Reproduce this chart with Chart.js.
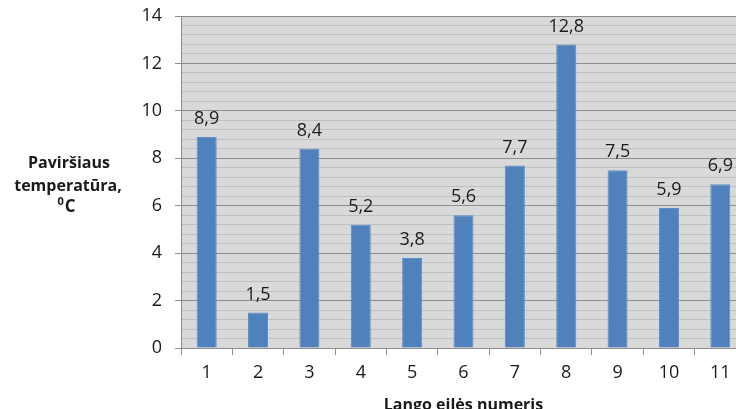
<!DOCTYPE html>
<html>
<head>
<meta charset="utf-8">
<script src="https://cdn.jsdelivr.net/npm/chart.js@4/dist/chart.umd.min.js"></script>
<style>
  html, body { margin: 0; padding: 0; background: #ffffff; overflow: hidden; }
  #wrap { width: 736px; height: 409px; overflow: hidden; position: relative; }
  canvas { display: block; }
</style>
</head>
<body>
<div id="wrap"><canvas id="c" width="746" height="420"></canvas></div>
<script>
// Window numbers and their surface temperatures (°C)
const windowNumbers = ['1', '2', '3', '4', '5', '6', '7', '8', '9', '10', '11'];
const surfaceTemps = [8.9, 1.5, 8.4, 5.2, 3.8, 5.6, 7.7, 12.8, 7.5, 5.9, 6.9];
const yTitleLines = ['Paviršiaus', 'temperatūra,'];
const yUnitSup = '0';
const yUnit = 'C';
const xTitle = 'Lango eilės numeris';

const FONT = '"Open Sans", "DejaVu Sans", sans-serif';
const TEXT = '#1a1a1a';
const MAJOR = '#8e8e8e';
const MINOR = '#bfbfbf';

const isMajor = v => Math.abs(v / 2 - Math.round(v / 2)) < 1e-6;

// Grey plot background
const plotBg = {
  id: 'plotBg',
  beforeDraw(chart) {
    const { ctx, chartArea: a } = chart;
    ctx.save();
    ctx.fillStyle = '#d9d9d9';
    ctx.fillRect(a.left, a.top, a.right - a.left, a.bottom - a.top);
    ctx.restore();
  }
};

// Value labels above bars, with decimal comma
const barLabels = {
  id: 'barLabels',
  afterDatasetsDraw(chart) {
    const { ctx } = chart;
    const meta = chart.getDatasetMeta(0);
    ctx.save();
    ctx.font = '18px ' + FONT;
    ctx.fillStyle = TEXT;
    ctx.textAlign = 'center';
    ctx.textBaseline = 'middle';
    meta.data.forEach((bar, i) => {
      const txt = String(surfaceTemps[i]).replace('.', ',');
      ctx.fillText(txt, bar.x, bar.y - 18);
    });
    ctx.restore();
  }
};

// Horizontal axis titles
const axisTitles = {
  id: 'axisTitles',
  afterDraw(chart) {
    const { ctx, chartArea: a } = chart;
    ctx.save();
    ctx.fillStyle = TEXT;
    ctx.textBaseline = 'alphabetic';
    ctx.textAlign = 'center';
    ctx.font = 'bold 16px ' + FONT;
    ctx.fillText(yTitleLines[0], 69, 168);
    ctx.fillText(yTitleLines[1], 68, 191);
    // unit with superscript degree mark
    ctx.textAlign = 'left';
    ctx.font = 'bold 11px ' + FONT;
    const supW = ctx.measureText(yUnitSup).width;
    ctx.font = 'bold 17px ' + FONT;
    const cW = ctx.measureText(yUnit).width;
    const startX = 66 - (supW + cW) / 2;
    ctx.font = 'bold 11px ' + FONT;
    ctx.fillText(yUnitSup, startX, 205);
    ctx.font = 'bold 17px ' + FONT;
    ctx.fillText(yUnit, startX + supW + 1, 212);
    // x title
    ctx.textAlign = 'center';
    ctx.font = 'bold 16px ' + FONT;
    ctx.fillText(xTitle, (a.left + 746) / 2, 410);
    ctx.restore();
  }
};

new Chart(document.getElementById('c'), {
  type: 'bar',
  data: {
    labels: windowNumbers,
    datasets: [{
      data: surfaceTemps,
      backgroundColor: '#4f81bd',
      borderColor: '#5b8cc6',
      borderWidth: 1,
      barPercentage: 0.39,
      categoryPercentage: 1
    }]
  },
  options: {
    responsive: false,
    animation: false,
    layout: { padding: 0 },
    plugins: { legend: { display: false }, tooltip: { enabled: false } },
    scales: {
      x: {
        offset: true,
        grid: {
          offset: true,
          drawOnChartArea: false,
          drawTicks: true,
          tickLength: 7,
          color: MAJOR,
          lineWidth: 1
        },
        border: { display: true, color: MAJOR },
        ticks: {
          color: TEXT,
          font: { family: FONT, size: 18 },
          padding: 7,
          maxRotation: 0,
          autoSkip: false
        },
        afterFit(scale) {
          scale.height = 72;
          scale.paddingLeft = 0;
          scale.paddingRight = 0;
        }
      },
      y: {
        min: 0,
        max: 14,
        grid: {
          color: c => isMajor(c.tick.value) ? MAJOR : MINOR,
          tickColor: c => isMajor(c.tick.value) ? MAJOR : 'rgba(0,0,0,0)',
          tickLength: 6,
          lineWidth: 1
        },
        border: { display: true, color: MAJOR },
        ticks: {
          stepSize: 0.4,
          autoSkip: false,
          padding: 13,
          color: TEXT,
          font: { family: FONT, size: 18 },
          callback: v => isMajor(v) ? String(Math.round(v)) : ''
        },
        afterFit(scale) {
          scale.width = 181;
          scale.paddingTop = 16;
          scale.paddingBottom = 0;
        }
      }
    }
  },
  plugins: [plotBg, barLabels, axisTitles]
});
</script>
</body>
</html>
